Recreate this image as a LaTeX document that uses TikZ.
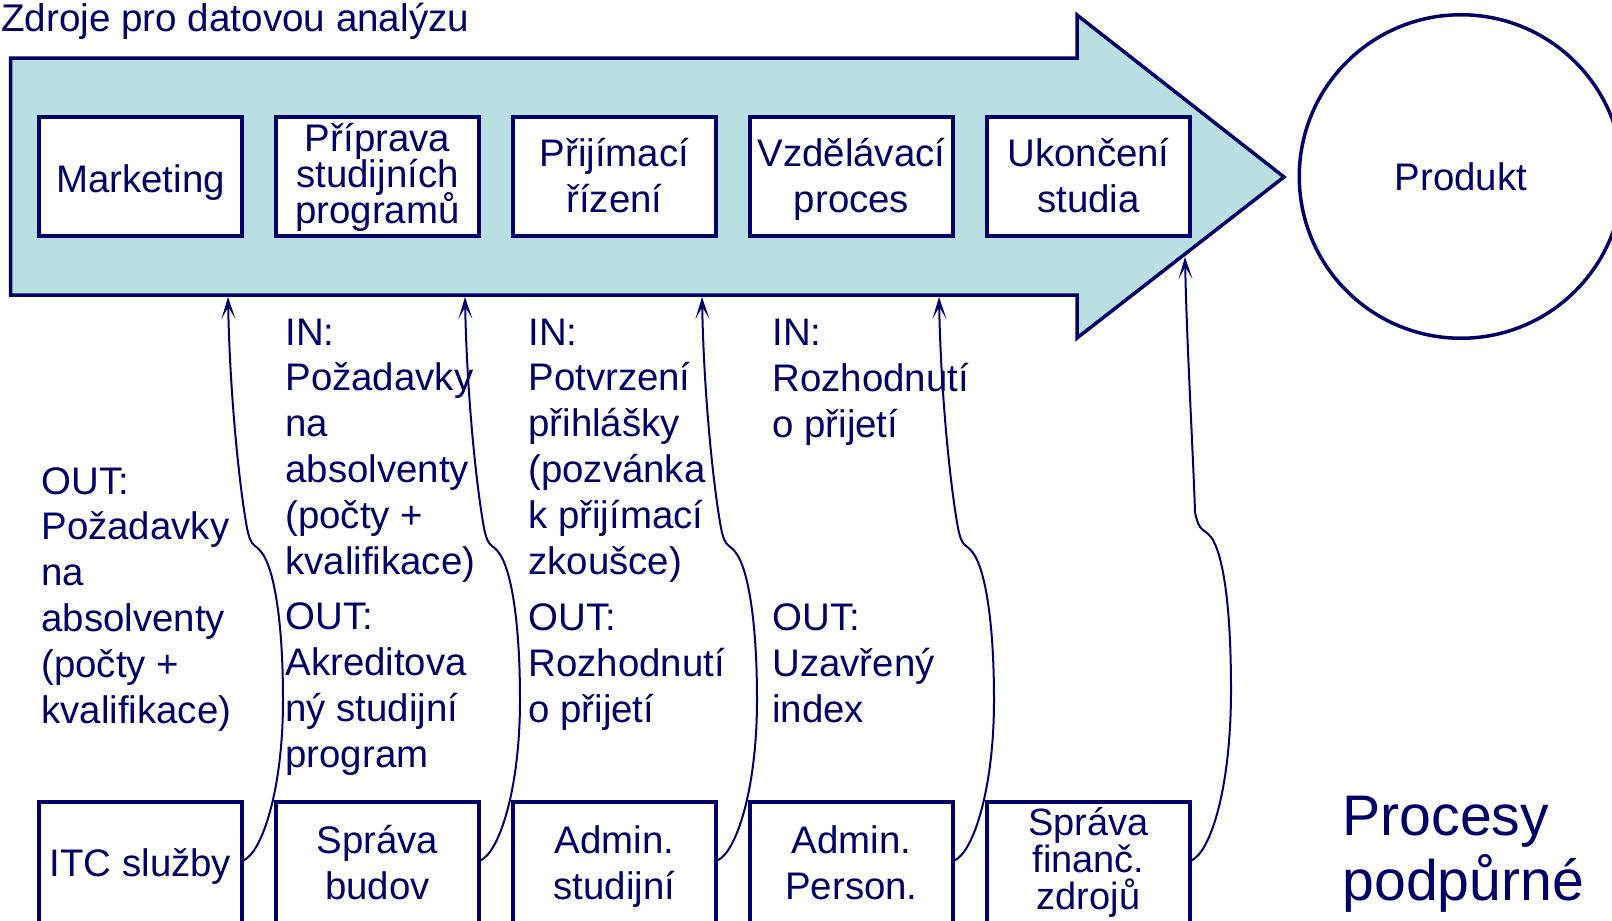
\documentclass[tikz,border=0pt]{standalone}
\usepackage{fontspec}
\setmainfont{Liberation Sans}
\usetikzlibrary{arrows.meta,calc}
\definecolor{navy}{RGB}{0,0,102}
\definecolor{tealfill}{RGB}{185,223,227}
\lineskiplimit=-100pt
\begin{document}
\begin{tikzpicture}[x=0.5pt,y=-0.5pt,
  outline/.style={draw=navy, line width=1.75pt},
  procbox/.style={outline, fill=white, rectangle, minimum width=101.5pt, minimum height=59.5pt, inner sep=0pt},
  supbox/.style={outline, fill=white, rectangle, minimum width=101.5pt, minimum height=80pt, inner sep=0pt},
  txt/.style={text=navy, font=\fontsize{19.2}{22.9}\selectfont, inner sep=0pt},
  tight/.style={font=\fontsize{19.2}{18}\selectfont},
  link/.style={draw=navy, line width=1pt, -{Stealth[length=11pt,width=7pt,inset=6pt]}},
]
\clip (0,0) rectangle (1612,921);

% main process arrow
\draw[outline, fill=tealfill, line join=miter] (10.5,58) -- (1077,58) -- (1077,15) -- (1284,177) -- (1077,338) -- (1077,295) -- (10.5,295) -- cycle;

\node[txt, font=\fontsize{19.3}{23}\selectfont, anchor=base west] (title) at (1,32) {Zdroje pro datovou analýzu};

% core process boxes
\node[procbox] (p1) at (140.5,176.5) {};
\node[procbox] (p2) at (377.5,176.5) {};
\node[procbox] (p3) at (614.5,176.5) {};
\node[procbox] (p4) at (851.5,176.5) {};
\node[procbox] (p5) at (1088.5,176.5) {};
\node[txt, anchor=base] at (140.5,192) {Marketing};
\node[txt, tight, anchor=base, align=center] at (377.5,223) {Příprava\\studijních\\programů};
\node[txt, anchor=base, align=center] at (614.5,212) {Přijímací\\řízení};
\node[txt, anchor=base, align=center] at (851.5,212) {Vzdělávací\\proces};
\node[txt, anchor=base, align=center] at (1088.5,212) {Ukončení\\studia};

% product
\node[outline, circle, minimum size=161.75pt, inner sep=0pt, txt] (prod) at (1461,176.5) {Produkt};

% IN / OUT texts (anchor = baseline of the last line)
\node[txt, anchor=base west, align=left] (o1) at (41,723) {OUT:\\Požadavky\\na\\absolventy\\(počty +\\kvalifikace)};
\node[txt, anchor=base west, align=left] (i2) at (285,574) {IN:\\Požadavky\\na\\absolventy\\(počty +\\kvalifikace)};
\node[txt, anchor=base west, align=left] (o2) at (285,767) {OUT:\\Akreditova\\ný studijní\\program};
\node[txt, anchor=base west, align=left] (i3) at (528,574) {IN:\\Potvrzení\\přihlášky\\(pozvánka\\k přijímací\\zkoušce)};
\node[txt, anchor=base west, align=left] (o3) at (528,722) {OUT:\\Rozhodnutí\\o přijetí};
\node[txt, anchor=base west, align=left] (i4) at (772,437) {IN:\\Rozhodnutí\\o přijetí};
\node[txt, anchor=base west, align=left] (o4) at (772,722) {OUT:\\Uzavřený\\index};

% support process boxes
\node[supbox] (s1) at (140.5,882) {};
\node[supbox] (s2) at (377.5,882) {};
\node[supbox] (s3) at (614.5,882) {};
\node[supbox] (s4) at (851.5,882) {};
\node[supbox] (s5) at (1088.5,882) {};
\node[txt, anchor=base] at (140.5,876) {ITC služby};
\node[txt, anchor=base, align=center] at (377.5,899) {Správa\\budov};
\node[txt, anchor=base, align=center] at (614.5,899) {Admin.\\studijní};
\node[txt, anchor=base, align=center] at (851.5,899) {Admin.\\Person.};
\node[txt, font=\fontsize{19}{18.3}\selectfont, anchor=base, align=center] at (1088.5,909) {Správa\\finanč.\\zdrojů};

\node[txt, font=\fontsize{28.6}{32.5}\selectfont, anchor=base west, align=left] (sup) at (1342,900) {Procesy\\podpůrné};

% connector targets on the arrow
\coordinate (t1) at (228,297);
\coordinate (t2) at (465,297);
\coordinate (t3) at (702,297);
\coordinate (t4) at (939,297);
\coordinate (t5) at (1185,257);

\foreach \i/\n in {0/1,1/2,2/3,3/4} {
  \pgfmathsetmacro\dx{237*\i}
  \draw[link] ($(s\n.north east)+(0,60)$) .. controls (262+\dx,852) and (283+\dx,790) .. (283+\dx,700)
    .. controls (283+\dx,625) and (275+\dx,575) .. (264+\dx,556)
    .. controls (261+\dx,551) and (258+\dx,548) .. (255+\dx,546)
    .. controls (251+\dx,543) and (249+\dx,538) .. (247+\dx,528)
    .. controls (240+\dx,490) and (230+\dx,400) .. (t\n);
}
\draw[link] ($(s5.north east)+(0,60)$) .. controls (1210,852) and (1231,790) .. (1231,690)
    .. controls (1231,610) and (1224,560) .. (1213,540)
    .. controls (1210,535) and (1206,532) .. (1203,530)
    .. controls (1199,527) and (1197,522) .. (1195,512)
    .. controls (1193,450) and (1187,350) .. (t5);
\end{tikzpicture}
\end{document}
